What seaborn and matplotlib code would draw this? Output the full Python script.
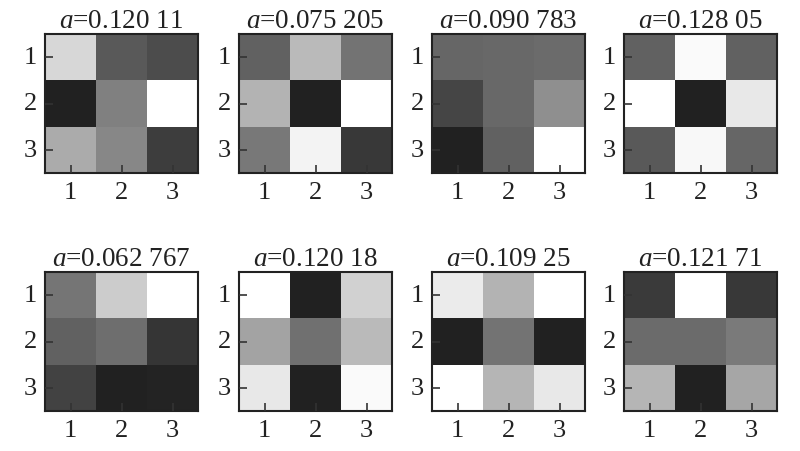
import numpy as np
import pandas as pd
import matplotlib
matplotlib.use("Agg")
import matplotlib.pyplot as plt
import seaborn as sns

sns.set_style("white")
plt.rcParams['font.family'] = ['Liberation Serif', 'DejaVu Serif']
plt.rcParams['mathtext.fontset'] = 'custom'
plt.rcParams['mathtext.it'] = 'Liberation Serif:italic'
plt.rcParams['mathtext.rm'] = 'Liberation Serif'

titles = ["0.120 11", "0.075 205", "0.090 783", "0.128 05",
          "0.062 767", "0.120 18", "0.109 25", "0.121 71"]
tick_labels = ["1", "2", "3"]

m1 = [[0.84, 0.35, 0.30], [0.13, 0.50, 1.00], [0.67, 0.53, 0.24]]
m2 = [[0.38, 0.73, 0.45], [0.70, 0.13, 1.00], [0.47, 0.95, 0.22]]
m3 = [[0.40, 0.41, 0.42], [0.27, 0.41, 0.56], [0.13, 0.38, 1.00]]
m4 = [[0.38, 0.98, 0.38], [1.00, 0.13, 0.91], [0.35, 0.97, 0.40]]
m5 = [[0.46, 0.80, 1.00], [0.38, 0.43, 0.21], [0.26, 0.13, 0.14]]
m6 = [[1.00, 0.13, 0.82], [0.64, 0.44, 0.73], [0.91, 0.13, 0.98]]
m7 = [[0.92, 0.70, 1.00], [0.13, 0.45, 0.13], [1.00, 0.71, 0.91]]
m8 = [[0.23, 1.00, 0.22], [0.42, 0.42, 0.48], [0.71, 0.13, 0.65]]
matrices = [m1, m2, m3, m4, m5, m6, m7, m8]

fig = plt.figure(figsize=(8.0, 4.52), dpi=100)
W, H = 800, 452
lefts = [45, 239, 432, 624]
tops = [35, 273]
aw, ah = 153, 139

for i, (mat, t) in enumerate(zip(matrices, titles)):
    r, c = divmod(i, 4)
    ax = fig.add_axes([lefts[c] / W, 1 - (tops[r] + ah) / H, aw / W, ah / H])
    df = pd.DataFrame(mat, index=tick_labels, columns=tick_labels)
    sns.heatmap(df, ax=ax, cmap="gray", vmin=0, vmax=1, cbar=False,
                square=False, linewidths=0)
    for s in ax.spines.values():
        s.set_visible(True)
        s.set_color("#222222")
        s.set_linewidth(1.5)
    ax.set_axisbelow(False)
    ax.tick_params(axis="both", which="major", direction="in", length=6,
                   width=1.2, color="#333333", labelsize=19, pad=6,
                   bottom=True, left=True, top=False, right=False,
                   labelcolor="#222222")
    ax.set_yticklabels(tick_labels, rotation=0)
    ax.set_xticklabels(tick_labels, rotation=0)
    ax.set_title(r"$a$=" + t, fontsize=19.5, pad=5, color="#222222")

fig.savefig("out.png", dpi=100)
